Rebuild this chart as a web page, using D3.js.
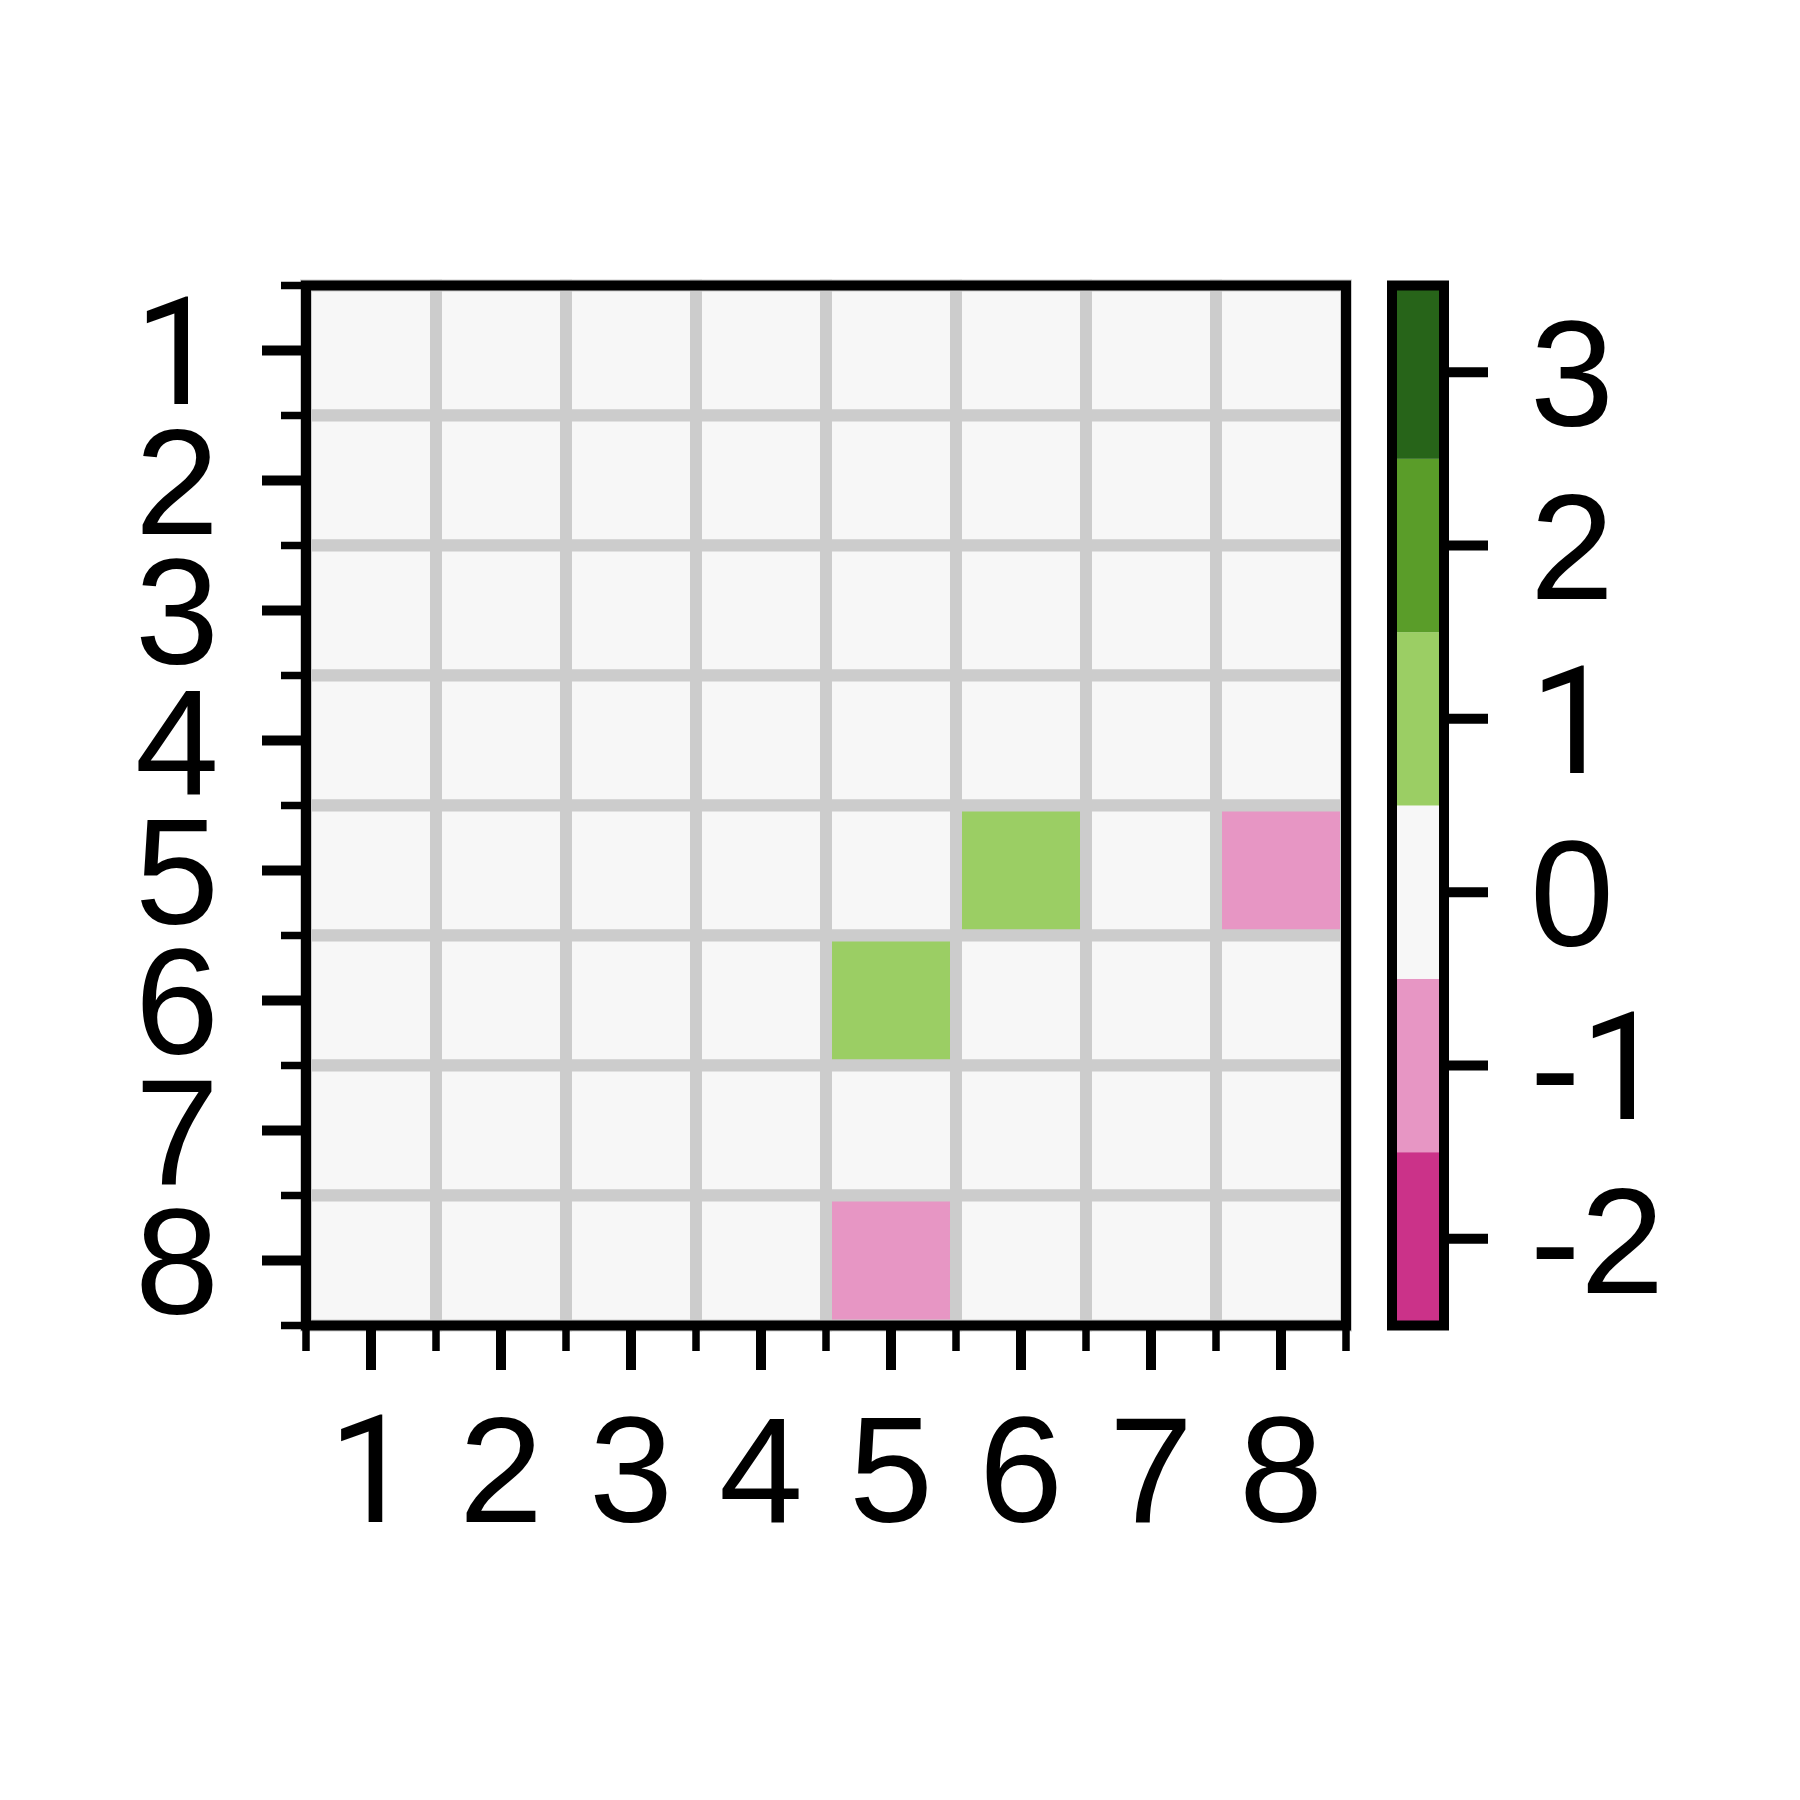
<!DOCTYPE html>
<html>
<head>
<meta charset="utf-8">
<script src="https://cdn.jsdelivr.net/npm/d3@7"></script>
<style>
  html, body { margin: 0; padding: 0; background: #ffffff; }
  svg { display: block; }
</style>
</head>
<body>
<div id="chart"></div>
<script>
// ---- data ----
const rowLabels = ["1", "2", "3", "4", "5", "6", "7", "8"];
const colLabels = ["1", "2", "3", "4", "5", "6", "7", "8"];
const matrix = [
  [0, 0, 0, 0, 0, 0, 0, 0],
  [0, 0, 0, 0, 0, 0, 0, 0],
  [0, 0, 0, 0, 0, 0, 0, 0],
  [0, 0, 0, 0, 0, 0, 0, 0],
  [0, 0, 0, 0, 0, 1, 0, -1],
  [0, 0, 0, 0, 1, 0, 0, 0],
  [0, 0, 0, 0, 0, 0, 0, 0],
  [0, 0, 0, 0, -1, 0, 0, 0]
];
const levelValues = [-2, -1, 0, 1, 2, 3];
const levelColors = ["#cb3289", "#e796c4", "#f7f7f7", "#9bce64", "#5a9d29", "#276419"];
const colorbarTicks = [-2, -1, 0, 1, 2, 3];

// ---- layout ----
const W = 1800, H = 1800;
const pLeft = 306, pRight = 1346, pTop = 285.5, pBottom = 1325.5;
const cbLeft = 1392, cbRight = 1444;
const fs = 151;
const font = "'Liberation Sans', Arial, Helvetica, sans-serif";
const oneFont = "Roboto, 'Liberation Sans', Arial, sans-serif"; // Arial-like "1" without foot

const svg = d3.select("#chart").append("svg")
  .attr("width", W).attr("height", H);

const x = d3.scaleBand().domain(colLabels).range([pLeft, pRight]).paddingInner(0).paddingOuter(0);
const y = d3.scaleBand().domain(rowLabels).range([pTop, pBottom]).paddingInner(0).paddingOuter(0);
const color = d3.scaleOrdinal().domain(levelValues).range(levelColors);
const cb = d3.scaleLinear().domain([-2.5, 3.5]).range([pBottom, pTop]);

function setLabel(sel) {
  sel.each(function(d) {
    const t = d3.select(this);
    const s = String(d);
    s.split("").forEach(ch => {
      t.append("tspan")
        .attr("font-family", ch === "1" ? oneFont : font)
        .text(ch);
    });
  });
}

const cells = [];
matrix.forEach((row, i) => row.forEach((v, j) => cells.push({r: rowLabels[i], c: colLabels[j], v})));

svg.append("g").selectAll("rect").data(cells).join("rect")
  .attr("x", d => x(d.c)).attr("y", d => y(d.r))
  .attr("width", x.bandwidth()).attr("height", y.bandwidth())
  .attr("fill", d => color(d.v))
  .attr("stroke", "#cccccc").attr("stroke-width", 12);

// edges for minor ticks
const xEdges = colLabels.map(c => x(c)).concat([x(colLabels[colLabels.length - 1]) + x.bandwidth()]);
const yEdges = rowLabels.map(r => y(r)).concat([y(rowLabels[rowLabels.length - 1]) + y.bandwidth()]);

const ticks = svg.append("g").attr("stroke", "#000");
ticks.append("g").selectAll("line").data(rowLabels).join("line")
  .attr("x1", pLeft - 44).attr("x2", pLeft)
  .attr("y1", d => y(d) + y.bandwidth() / 2).attr("y2", d => y(d) + y.bandwidth() / 2)
  .attr("stroke-width", 10);
ticks.append("g").selectAll("line").data(yEdges).join("line")
  .attr("x1", pLeft - 25).attr("x2", pLeft)
  .attr("y1", d => d).attr("y2", d => d)
  .attr("stroke-width", 7.5);
ticks.append("g").selectAll("line").data(colLabels).join("line")
  .attr("y1", pBottom).attr("y2", pBottom + 44.5)
  .attr("x1", d => x(d) + x.bandwidth() / 2).attr("x2", d => x(d) + x.bandwidth() / 2)
  .attr("stroke-width", 10);
ticks.append("g").selectAll("line").data(xEdges).join("line")
  .attr("y1", pBottom).attr("y2", pBottom + 25.5)
  .attr("x1", d => d).attr("x2", d => d)
  .attr("stroke-width", 7.5);

// heatmap frame
svg.append("rect")
  .attr("x", pLeft).attr("y", pTop)
  .attr("width", pRight - pLeft).attr("height", pBottom - pTop)
  .attr("fill", "none").attr("stroke", "#000").attr("stroke-width", 10);

// labels
svg.append("g").selectAll("text").data(rowLabels).join("text")
  .attr("x", 219).attr("y", d => y(d) + y.bandwidth() / 2 + 0.357 * fs)
  .attr("text-anchor", "end")
  .attr("font-family", font).attr("font-size", fs).attr("fill", "#000")
  .call(setLabel);

svg.append("g").selectAll("text").data(colLabels).join("text")
  .attr("x", d => x(d) + x.bandwidth() / 2).attr("y", 1522)
  .attr("text-anchor", "middle")
  .attr("font-family", font).attr("font-size", fs).attr("fill", "#000")
  .call(setLabel);

// colorbar
svg.append("g").selectAll("rect").data(levelValues).join("rect")
  .attr("x", cbLeft).attr("width", cbRight - cbLeft)
  .attr("y", d => cb(d + 0.5)).attr("height", d => cb(d - 0.5) - cb(d + 0.5))
  .attr("fill", d => color(d));

svg.append("rect")
  .attr("x", cbLeft).attr("y", pTop)
  .attr("width", cbRight - cbLeft).attr("height", pBottom - pTop)
  .attr("fill", "none").attr("stroke", "#000").attr("stroke-width", 10);

svg.append("g").selectAll("line").data(colorbarTicks).join("line")
  .attr("x1", cbRight).attr("x2", cbRight + 44)
  .attr("y1", d => cb(d)).attr("y2", d => cb(d))
  .attr("stroke", "#000").attr("stroke-width", 10);

svg.append("g").selectAll("text").data(colorbarTicks).join("text")
  .attr("x", 1530).attr("y", d => cb(d) + 0.357 * fs)
  .attr("text-anchor", "start")
  .attr("font-family", font).attr("font-size", fs).attr("fill", "#000")
  .call(setLabel);
</script>
</body>
</html>
